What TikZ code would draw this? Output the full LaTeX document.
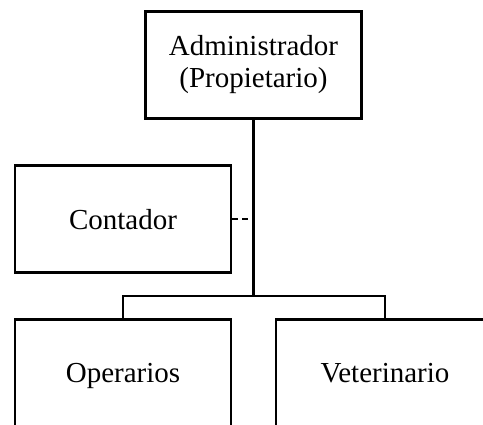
\documentclass[tikz,border=0pt]{standalone}
\usepackage{fontspec}
\setmainfont{Liberation Serif}
\usepackage{tikz}

\tikzset{
  cargo/.style={draw=black, line width=2.2pt, minimum height=107pt,
    align=center, inner sep=0pt, font=\fontsize{29}{32}\selectfont},
  linea/.style={text depth=0pt},
  enlace/.style={draw=black, line width=2.2pt}
}

\begin{document}
\begin{tikzpicture}[x=1pt,y=-1pt]
   \useasboundingbox (0,0) rectangle (483,424);
   \clip (0,0) rectangle (483,424);

   \node[cargo, minimum width=216pt] (admin) at (253.5,65) {Administrador\\(Propietario)};
   \node[cargo, linea, minimum width=216pt] (conta) at (123,219) {Contador};
   \node[cargo, linea, minimum width=216pt] (oper) at (123,373) {Operarios};
   \node[cargo, linea, minimum width=218pt] (vete) at (385,373) {Veterinario};

   \coordinate (rama) at (253.5,296);
   \coordinate (cruce) at (253.5,219);

   \draw[enlace] (admin.south) -- (rama);
   \draw[enlace, dash pattern=on 6pt off 4pt] (conta.east) -- (cruce);
   \draw[enlace] (oper.north) -- (oper.north |- rama) -- (vete.north |- rama) -- (vete.north);
\end{tikzpicture}
\end{document}
